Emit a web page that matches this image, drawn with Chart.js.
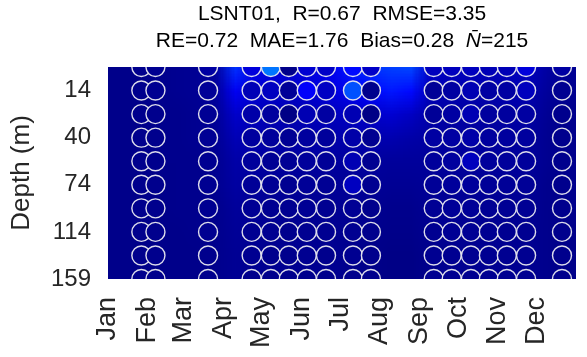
<!DOCTYPE html>
<html>
<head>
<meta charset="utf-8">
<script src="https://cdn.jsdelivr.net/npm/chart.js@4.4.1/dist/chart.umd.min.js"></script>
<style>
  html, body { margin: 0; padding: 0; background: #fff; }
  canvas { display: block; }
</style>
</head>
<body>
<canvas id="depthChart" width="587" height="357"></canvas>
<script>
// Month ticks (day of year)
const months = ['Jan', 'Feb', 'Mar', 'Apr', 'May', 'Jun', 'Jul', 'Aug', 'Sep', 'Oct', 'Nov', 'Dec'];
const monthStarts = [0, 31, 59, 90, 120, 151, 181, 212, 243, 273, 304, 334];

// Depth levels (row index -> label), only every second level is labelled
const depthTickRows = [1, 3, 5, 7, 9];
const depthTicks = ['14', '40', '74', '114', '159'];

// Colour limits for the jet colormap
const cLimits = [0, 30];

// Observation days (profiles) and observed values per depth row
const obsDays = [26, 37, 78, 112, 127, 141, 155, 170, 191, 205, 254, 268, 283, 297, 311, 326, 354];
const obsValues = [
  [0.4, 0.5, 1.0, 2.7, 7.2, 0.3, 2.4, 2.1, 4.0, 2.1, 1.8, 1.8, 1.8, 1.6, 1.6, 2.7, 1.0],
  [0.4, 0.5, 0.7, 1.6, 1.9, 0.7, 3.6, 2.0, 6.1, 0.4, 0.7, 1.0, 1.5, 1.0, 1.0, 1.8, 0.5],
  [0.4, 0.4, 0.6, 1.2, 0.9, 0.2, 1.5, 1.0, 1.5, 0.2, 0.7, 1.0, 1.5, 0.9, 0.9, 1.0, 0.4],
  [0.4, 0.4, 0.6, 0.9, 0.8, 0.6, 0.9, 0.8, 1.2, 0.5, 1.0, 1.0, 1.2, 0.9, 0.9, 0.9, 0.4],
  [0.4, 0.4, 0.5, 0.8, 0.6, 0.6, 0.8, 0.7, 1.5, 0.5, 0.8, 0.9, 1.8, 0.8, 0.8, 0.8, 0.4],
  [0.4, 0.4, 0.5, 0.7, 0.6, 0.5, 0.7, 0.6, 1.9, 0.5, 0.7, 0.8, 0.8, 0.7, 0.7, 0.7, 0.4],
  [0.4, 0.4, 0.5, 0.6, 0.5, 0.5, 0.6, 0.5, 0.6, 0.4, 0.6, 0.7, 0.7, 0.6, 0.6, 0.6, 0.4],
  [0.4, 0.4, 0.5, 0.5, 0.5, 0.4, 0.5, 0.5, 0.5, 0.4, 0.5, 0.6, 0.6, 0.5, 0.5, 0.5, 0.4],
  [0.4, 0.4, 0.4, 0.5, 0.4, 0.4, 0.5, 0.4, 0.5, 0.4, 0.5, 0.5, 0.5, 0.5, 0.5, 0.5, 0.4],
  [0.4, 0.4, 0.4, 0.4, 0.4, 0.4, 0.4, 0.4, 0.4, 0.4, 0.5, 0.5, 0.5, 0.5, 0.5, 0.5, 0.4]
];

// Model field: 24 half-month bins (0..365 days) x 10 depth rows
const fieldDays = [0, 365];
const modelField = [
  [0.3, 0.3, 0.4, 0.5, 0.6, 0.9, 5.2, 3.2, 2.8, 2.7, 3.0, 3.4, 4.6, 5.2, 5.6, 5.8, 2.2, 1.9, 1.8, 1.7, 1.8, 1.9, 1.0, 0.6],
  [0.3, 0.3, 0.4, 0.5, 0.6, 0.8, 3.4, 2.4, 2.2, 2.1, 2.4, 2.8, 3.4, 3.9, 4.4, 4.0, 1.6, 1.4, 1.4, 1.3, 1.4, 1.4, 0.8, 0.5],
  [0.3, 0.3, 0.4, 0.4, 0.5, 0.7, 2.2, 1.8, 1.6, 1.5, 1.7, 1.8, 2.0, 2.2, 2.4, 2.0, 1.2, 1.1, 1.1, 1.0, 1.1, 1.1, 0.6, 0.4],
  [0.3, 0.3, 0.4, 0.4, 0.5, 0.6, 1.6, 1.3, 1.2, 1.2, 1.3, 1.3, 1.3, 1.4, 1.4, 1.2, 1.0, 0.9, 0.9, 0.9, 0.9, 0.9, 0.5, 0.4],
  [0.3, 0.3, 0.4, 0.4, 0.4, 0.5, 1.2, 1.0, 0.9, 0.9, 0.9, 0.9, 0.9, 0.9, 0.8, 0.8, 0.8, 0.8, 0.8, 0.8, 0.8, 0.8, 0.5, 0.4],
  [0.3, 0.3, 0.3, 0.4, 0.4, 0.5, 1.0, 0.8, 0.7, 0.7, 0.7, 0.7, 0.7, 0.7, 0.6, 0.6, 0.7, 0.7, 0.7, 0.7, 0.7, 0.7, 0.4, 0.4],
  [0.3, 0.3, 0.3, 0.4, 0.4, 0.4, 0.8, 0.7, 0.6, 0.6, 0.6, 0.6, 0.6, 0.5, 0.4, 0.4, 0.6, 0.6, 0.6, 0.6, 0.6, 0.6, 0.4, 0.4],
  [0.3, 0.3, 0.3, 0.3, 0.4, 0.4, 0.7, 0.6, 0.5, 0.5, 0.5, 0.5, 0.5, 0.4, 0.3, 0.3, 0.5, 0.5, 0.5, 0.5, 0.5, 0.5, 0.4, 0.3],
  [0.3, 0.3, 0.3, 0.3, 0.3, 0.4, 0.6, 0.5, 0.5, 0.5, 0.5, 0.5, 0.4, 0.3, 0.2, 0.2, 0.4, 0.5, 0.5, 0.5, 0.5, 0.5, 0.4, 0.3],
  [0.3, 0.3, 0.3, 0.3, 0.3, 0.4, 0.6, 0.5, 0.5, 0.5, 0.5, 0.5, 0.4, 0.3, 0.2, 0.2, 0.4, 0.5, 0.5, 0.5, 0.5, 0.5, 0.4, 0.3]
];

const titleLine1 = 'LSNT01,  R=0.67  RMSE=3.35';
const titleLine2 = ['RE=0.72  MAE=1.76  Bias=0.28  ', 'N\u0304', '=215'];

const TEXT_COLOR = '#262626';
const FONT = "'Liberation Sans', Arial, sans-serif";

// MATLAB-style jet colormap
function jet(v) {
  const t = Math.min(Math.max((v - cLimits[0]) / (cLimits[1] - cLimits[0]), 0), 1);
  const c = f => Math.round(255 * Math.min(Math.max(f, 0), 1));
  return [c(1.5 - Math.abs(4 * t - 3)), c(1.5 - Math.abs(4 * t - 2)), c(1.5 - Math.abs(4 * t - 1))];
}
function jetCss(v) {
  const [r, g, b] = jet(v);
  return 'rgb(' + r + ',' + g + ',' + b + ')';
}

// Build scatter points from the observation arrays
const points = [];
const pointColors = [];
obsValues.forEach(function(row, r) {
  row.forEach(function(v, i) {
    points.push({ x: obsDays[i], y: r });
    pointColors.push(jetCss(v));
  });
});

// Draws the interpolated model field behind the observation circles
const fieldPlugin = {
  id: 'modelField',
  beforeDatasetsDraw(chart) {
    const ctx = chart.ctx;
    const a = chart.chartArea;
    const xs = chart.scales.x, ys = chart.scales.y;
    const nr = modelField.length, nc = modelField[0].length;

    const off = document.createElement('canvas');
    off.width = nc;
    off.height = nr;
    const octx = off.getContext('2d');
    const img = octx.createImageData(nc, nr);
    for (let r = 0; r < nr; r++) {
      for (let c = 0; c < nc; c++) {
        const rgb = jet(modelField[r][c]);
        const k = (r * nc + c) * 4;
        img.data[k] = rgb[0];
        img.data[k + 1] = rgb[1];
        img.data[k + 2] = rgb[2];
        img.data[k + 3] = 255;
      }
    }
    octx.putImageData(img, 0, 0);

    const x0 = xs.getPixelForValue(fieldDays[0]);
    const x1 = xs.getPixelForValue(fieldDays[1]);
    const y0 = ys.getPixelForValue(-0.5);
    const y1 = ys.getPixelForValue(nr - 0.5);

    ctx.save();
    ctx.beginPath();
    ctx.rect(a.left, a.top, a.width, a.height);
    ctx.clip();
    ctx.fillStyle = jetCss(modelField[nr - 1][0]);
    ctx.fillRect(a.left, a.top, a.width, a.height);
    ctx.imageSmoothingEnabled = true;
    ctx.drawImage(off, x0, Math.min(y0, y1), x1 - x0, Math.abs(y1 - y0));
    ctx.restore();
  }
};

// Two-line title with an italic N-bar
const titlePlugin = {
  id: 'statsTitle',
  afterDraw(chart) {
    const ctx = chart.ctx;
    const a = chart.chartArea;
    const cx = (a.left + a.right) / 2;
    const normal = '21px ' + FONT;
    const italic = 'italic 21px ' + FONT;

    ctx.save();
    ctx.fillStyle = '#000';
    ctx.textBaseline = 'middle';
    ctx.font = normal;
    ctx.textAlign = 'center';
    ctx.fillText(titleLine1, cx, 14);

    ctx.textAlign = 'left';
    const fonts = [normal, italic, normal];
    const widths = titleLine2.map(function(s, i) {
      ctx.font = fonts[i];
      return ctx.measureText(s).width;
    });
    let x = cx - widths.reduce((p, w) => p + w, 0) / 2;
    titleLine2.forEach(function(s, i) {
      ctx.font = fonts[i];
      ctx.fillText(s, x, 41);
      x += widths[i];
    });
    ctx.restore();
  }
};

new Chart(document.getElementById('depthChart'), {
  type: 'scatter',
  data: {
    datasets: [{
      data: points,
      pointRadius: 9.5,
      pointBackgroundColor: pointColors,
      pointBorderColor: 'rgba(232,232,240,0.95)',
      pointBorderWidth: 1.4,
      clip: 0
    }]
  },
  options: {
    responsive: false,
    animation: false,
    events: [],
    layout: { padding: { top: 67, right: 2, left: 0, bottom: 0 } },
    plugins: {
      legend: { display: false },
      tooltip: { enabled: false },
      title: { display: false }
    },
    scales: {
      x: {
        type: 'linear',
        min: 0,
        max: 365,
        grid: { display: false, drawTicks: false },
        border: { display: false },
        afterBuildTicks: function(s) {
          s.ticks = monthStarts.map(v => ({ value: v }));
        },
        ticks: {
          autoSkip: false,
          minRotation: 90,
          maxRotation: 90,
          padding: 18,
          color: TEXT_COLOR,
          font: { family: FONT, size: 27 },
          callback: function(v, i) { return months[i]; }
        },
        afterFit: function(s) {
          s.height = 78;
          s.paddingLeft = 0;
          s.paddingRight = 0;
        }
      },
      y: {
        type: 'linear',
        reverse: true,
        min: 0,
        max: 9,
        grid: { display: false, drawTicks: false },
        border: { display: false },
        afterBuildTicks: function(s) {
          s.ticks = depthTickRows.map(v => ({ value: v }));
        },
        ticks: {
          padding: 17,
          color: TEXT_COLOR,
          font: { family: FONT, size: 24 },
          callback: function(v, i) { return depthTicks[i]; }
        },
        title: {
          display: true,
          text: 'Depth (m)',
          color: TEXT_COLOR,
          font: { family: FONT, size: 26 },
          padding: { top: 6, bottom: 0 }
        },
        afterFit: function(s) {
          s.width = 108;
          s.paddingTop = 0;
          s.paddingBottom = 0;
        }
      }
    }
  },
  plugins: [fieldPlugin, titlePlugin]
});
</script>
</body>
</html>
